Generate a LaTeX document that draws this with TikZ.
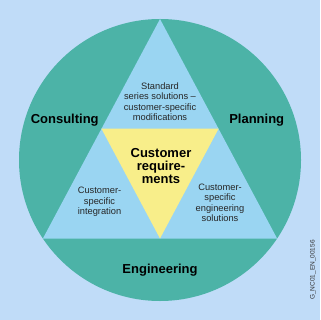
\documentclass[tikz,border=0pt]{standalone}
\usepackage{fontspec}
\setmainfont{Liberation Sans}
\usetikzlibrary{calc}
\definecolor{bgblue}{HTML}{C0DCF8}
\definecolor{teal1}{HTML}{4CB3A7}
\definecolor{lblue}{HTML}{9AD5F2}
\definecolor{yell}{HTML}{F8EE8A}
\tikzset{
  biglabel/.style={font=\bfseries\fontsize{13}{13}\selectfont, align=center, text=black, inner sep=0pt},
  smalllabel/.style={font=\fontsize{9.3}{10.5}\selectfont, align=center, text=black!85, inner sep=0pt},
  codelabel/.style={font=\fontsize{6.5}{6.5}\selectfont, rotate=90, inner sep=0pt, text=black!80}
}
\begin{document}
\begin{tikzpicture}[x=1pt,y=-1pt]
\fill[bgblue] (0,0) rectangle (320,320);
\useasboundingbox (0,0) rectangle (320,320);
\coordinate (ctr) at (160,160);
\fill[teal1] (ctr) circle[radius=141];
\coordinate (A) at (160,19);
\coordinate (B) at (42.9,238.5);
\coordinate (C) at (277.1,238.5);
\fill[lblue] (A) -- (B) -- (C) -- cycle;
\coordinate (mAB) at ($(A)!0.5!(B)$);
\coordinate (mAC) at ($(A)!0.5!(C)$);
\coordinate (mBC) at ($(B)!0.5!(C)$);
\fill[yell] (mAB) -- (mAC) -- (mBC) -- cycle;
\node[biglabel] (cr) at (161,166) {Customer\\require-\\ments};
\node[biglabel] (cons) at (64.7,120) {Consulting};
\node[biglabel] (plan) at (256.7,120) {Planning};
\node[biglabel] (eng) at (160,270) {Engineering};
\node[smalllabel] (top) at (160,101.5) {Standard\\series solutions --\\customer-specific\\modifications};
\node[smalllabel] (left) at (99.5,202) {Customer-\\specific\\integration};
\node[smalllabel] (right) at (220,203) {Customer-\\specific\\engineering\\solutions};
\node[codelabel] (code) at (313,270) {G\_NC01\_EN\_00156};
\end{tikzpicture}
\end{document}
